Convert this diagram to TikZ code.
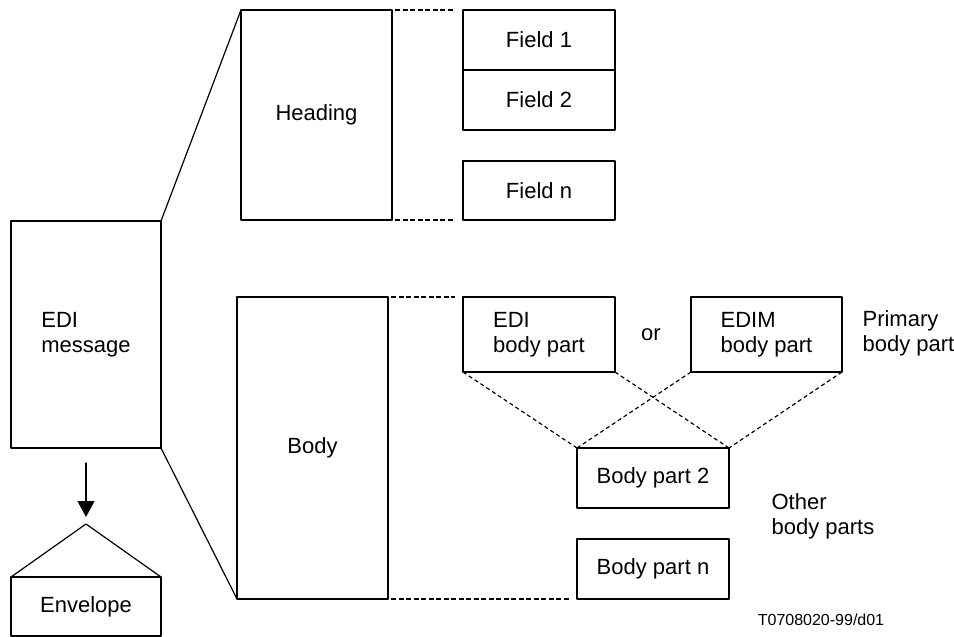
\documentclass[tikz,border=0pt]{standalone}
\usepackage{fontspec}
\setmainfont{Liberation Sans}
\usetikzlibrary{arrows.meta}
\tikzstyle{every path}=[line width=0.6pt, line cap=round, line join=round]
\tikzstyle{caja}=[draw, inner sep=0pt, outer sep=0pt, align=left, font=\fontsize{11}{12.5}\selectfont]
\tikzstyle{texto}=[inner sep=0pt, align=left, font=\fontsize{11}{12.5}\selectfont]
\tikzstyle{trazos}=[line width=0.9pt, line cap=butt, dash pattern=on 2.5pt off 1.25pt, shorten <=1.5pt, shorten >=4pt]
\tikzstyle{cruce}=[line cap=butt, dash pattern=on 2pt off 1.5pt]

\begin{document}
\begin{tikzpicture}[x=0.5pt, y=-0.5pt]
          \useasboundingbox (0,0) rectangle (954,637);
          %mensaje
          \node[caja, minimum width=75pt, minimum height=113.5pt] (msg) at (86,334.5) {EDI\\message};
          %sobre
          \node[caja, minimum width=75pt, minimum height=29.5pt] (env) at (86,606.5) {Envelope};
          \coordinate (peak) at (86,524);
          \draw (env.north west) -- (peak) -- (env.north east);
          \draw[-{Triangle[length=8pt,width=8.5pt]}, shorten <=7.5pt, shorten >=3.5pt] (msg.south) -- (peak);
          %cabecera y cuerpo
          \node[caja, minimum width=75.5pt, minimum height=105pt] (head) at (316.5,115) {Heading};
          \node[caja, minimum width=75.5pt, minimum height=151pt] (body) at (312.5,448) {Body};
          \draw (msg.north east) -- (head.north west);
          \draw (msg.south east) -- (body.south west);
          %campos
          \node[caja, minimum width=76pt, minimum height=30pt] (f1) at (539,40) {Field 1};
          \node[caja, minimum width=76pt, minimum height=30pt] (f2) at (539,100) {Field 2};
          \node[caja, minimum width=76pt, minimum height=29.5pt] (fn) at (539,190.5) {Field n};
          \draw[trazos] (head.north east) -- (f1.north west);
          \draw[trazos] (head.south east) -- (fn.south west);
          %partes del cuerpo
          \node[caja, minimum width=76pt, minimum height=37.5pt] (edi) at (539,334.5) {EDI\\body part};
          \node[caja, minimum width=75.5pt, minimum height=37.5pt] (edim) at (766.5,334.5) {EDIM\\body part};
          \node[caja, minimum width=76pt, minimum height=30pt] (bp2) at (653,478) {Body part 2};
          \node[caja, minimum width=76pt, minimum height=30pt] (bpn) at (653,569) {Body part n};
          \draw[trazos] (body.north east) -- (edi.north west);
          \draw[trazos] (body.south east) -- (bpn.south west);
          \draw[cruce] (edi.south west) -- (bp2.north west);
          \draw[cruce] (edi.south east) -- (bp2.north east);
          \draw[cruce] (edim.south west) -- (bp2.north west);
          \draw[cruce] (edim.south east) -- (bp2.north east);
          %textos
          \node[texto] (or) at (651,335) {or};
          \node[texto, anchor=west] (prim) at (862,333.5) {Primary\\body part};
          \node[texto, anchor=west] (other) at (771,516.5) {Other\\body parts};
          \node[inner sep=0pt, font=\fontsize{8}{9.6}\selectfont] (code) at (821,620) {T0708020-99/d01};
        \end{tikzpicture}
\end{document}
